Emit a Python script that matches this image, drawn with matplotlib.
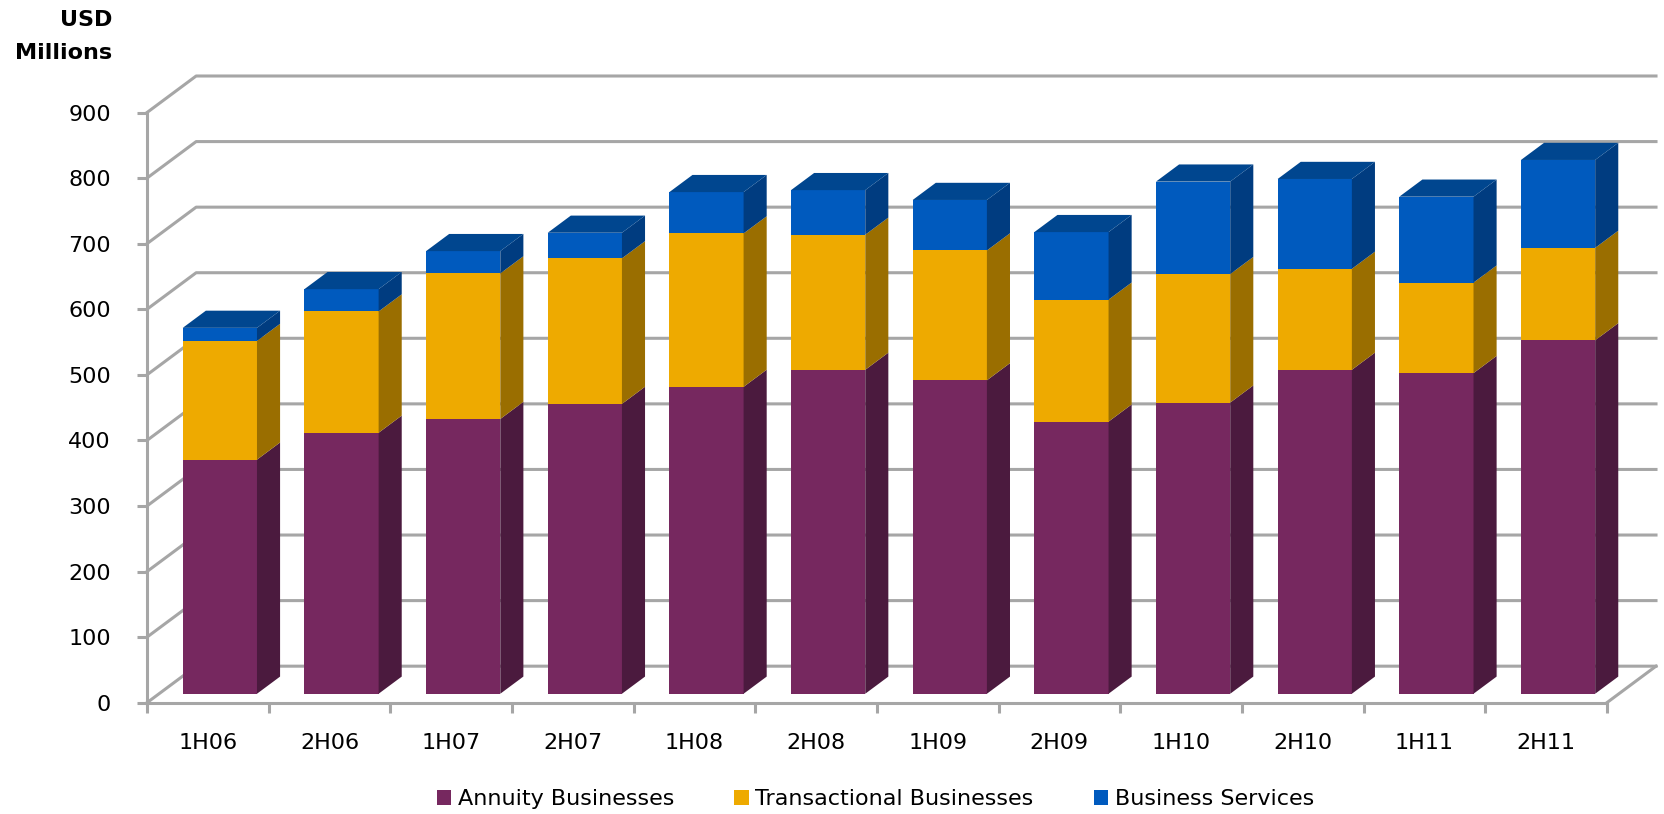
import matplotlib.pyplot as plt
from matplotlib.patches import Polygon
import numpy as np

periods = ["1H06", "2H06", "1H07", "2H07", "1H08", "2H08",
           "1H09", "2H09", "1H10", "2H10", "1H11", "2H11"]
annuity = [357, 398, 419, 442, 468, 494, 478, 415, 444, 494, 489, 539]
transactional = [181, 185, 222, 222, 234, 206, 198, 186, 196, 154, 138, 141]
services = [20, 34, 34, 39, 63, 68, 77, 103, 141, 137, 131, 134]
names = ["Annuity Businesses", "Transactional Businesses", "Business Services"]
yticks = list(range(0, 1000, 100))

front_colors = ["#76285f", "#eeaa00", "#005abe"]
side_colors = ["#4b1a3e", "#9a6e00", "#003c80"]
top_color = "#00468f"
grid_color = "#a6a6a6"

# fake 3d: depth of floor in data units, bar placement inside that depth
DX, DY = 0.404, 55.7
F0, F1 = 0.245, 0.715
W = 0.61

fig = plt.figure(figsize=(16.64, 8.14), dpi=100)
ax = fig.add_axes([147 / 1664, (814 - 702.7) / 814, 1509 / 1664, 626.7 / 814])
n = len(periods)
ax.set_xlim(0, n + DX)
ax.set_ylim(0, 900 + DY)

for s in ["top", "right"]:
    ax.spines[s].set_visible(False)
for s in ["left", "bottom"]:
    ax.spines[s].set_color(grid_color)
    ax.spines[s].set_linewidth(2.2)
ax.spines["left"].set_bounds(0, 900)
ax.spines["bottom"].set_bounds(0, n)

ax.set_yticks(yticks)
ax.set_yticklabels([str(v) for v in yticks])
ax.tick_params(axis="y", direction="out", length=7, width=2.2, color=grid_color,
               labelsize=16, pad=19)
ax.set_xticks(np.arange(n + 1))
ax.set_xticklabels([])
ax.set_xticks(np.arange(n) + 0.5, minor=True)
ax.set_xticklabels(periods, minor=True)
ax.tick_params(axis="x", which="major", direction="out", length=7, width=2.2,
               color=grid_color)
ax.tick_params(axis="x", which="minor", length=0, labelsize=16, pad=22)

# back wall gridlines + floor right edge
for v in yticks:
    ax.plot([0, DX, n + DX], [v, v + DY, v + DY], color=grid_color, lw=2.2,
            zorder=1, clip_on=False)
ax.plot([n, n + DX], [0, DY], color=grid_color, lw=2.2, zorder=1, clip_on=False)

series = [annuity, transactional, services]
x0 = np.arange(n) + (1 - W) / 2 + F0 * DX
d = F1 - F0
bottoms = np.zeros(n)
handles = []
for vals, fc, sc, name in zip(series, front_colors, side_colors, names):
    vals = np.array(vals, dtype=float)
    b = ax.bar(x0, vals, width=W, bottom=bottoms + F0 * DY, align="edge",
               color=fc, edgecolor="none", zorder=3, label=name)
    handles.append(b)
    for i in range(n):
        xr = x0[i] + W
        yb = bottoms[i] + F0 * DY
        yt = yb + vals[i]
        ax.add_patch(Polygon([(xr, yb), (xr + d * DX, yb + d * DY),
                              (xr + d * DX, yt + d * DY), (xr, yt)],
                             closed=True, facecolor=sc, edgecolor="none", zorder=3))
    bottoms += vals

for i in range(n):
    yt = bottoms[i] + F0 * DY
    ax.add_patch(Polygon([(x0[i], yt), (x0[i] + W, yt),
                          (x0[i] + W + d * DX, yt + d * DY), (x0[i] + d * DX, yt + d * DY)],
                         closed=True, facecolor=top_color, edgecolor="none", zorder=3))

fig.text(112 / 1664, 1 - 20 / 814, "USD", ha="right", va="center",
         fontsize=16, fontweight="bold")
fig.text(112 / 1664, 1 - 53 / 814, "Millions", ha="right", va="center",
         fontsize=16, fontweight="bold")

fig.legend(handles=handles, loc="center", bbox_to_anchor=(0.526, 15 / 814),
           ncol=3, frameon=False, fontsize=16, handlelength=0.65, handleheight=0.65,
           handletextpad=0.3, columnspacing=2.7)

fig.savefig("out.png", dpi=100)
